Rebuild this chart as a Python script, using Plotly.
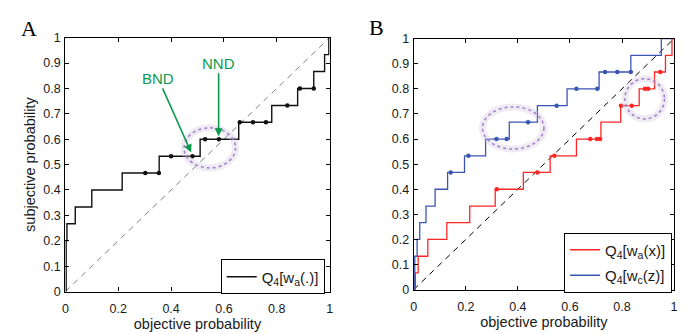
import plotly.graph_objects as go

# ---------------- data ----------------
# Panel A: step function Q4[wa(.)]
A_step_x = [0, 0.003, 0.006, 0.0375, 0.1, 0.215, 0.355, 0.51, 0.656, 0.781, 0.879, 0.94, 0.981, 0.997, 1.0]
A_step_y = [0, 0.2, 0.267, 0.333, 0.4, 0.467, 0.533, 0.6, 0.667, 0.733, 0.8, 0.867, 0.933, 1.0, 1.0]
A_dot_x = [0.3025, 0.354, 0.4, 0.481, 0.529, 0.581, 0.66, 0.71, 0.759, 0.84, 0.8875, 0.94]
A_dot_y = [0.467, 0.467, 0.533, 0.533, 0.6, 0.6, 0.667, 0.667, 0.667, 0.733, 0.8, 0.8]

# Panel B: red Q4[wa(x)]
B_red_x = [0, 0.006, 0.017, 0.054, 0.127, 0.215, 0.313, 0.421, 0.524, 0.625, 0.719, 0.795, 0.866, 0.925, 0.967, 0.992, 1.0]
B_red_y = [0, 0.067, 0.133, 0.2, 0.267, 0.333, 0.4, 0.467, 0.533, 0.6, 0.667, 0.733, 0.8, 0.867, 0.933, 1.0, 1.0]
B_red_dot_x = [0.319, 0.475, 0.54, 0.678, 0.704, 0.716, 0.796, 0.837, 0.888, 0.9, 0.947]
B_red_dot_y = [0.4, 0.467, 0.533, 0.6, 0.6, 0.6, 0.733, 0.733, 0.8, 0.8, 0.867]

# Panel B: blue Q4[wc(z)]
B_blue_x = [0, 0.004, 0.013, 0.023, 0.047, 0.082, 0.13, 0.195, 0.276, 0.367, 0.475, 0.589, 0.712, 0.834, 0.951, 1.0]
B_blue_y = [0, 0.133, 0.2, 0.267, 0.333, 0.4, 0.467, 0.533, 0.6, 0.667, 0.733, 0.8, 0.867, 0.933, 1.0, 1.0]
B_blue_dot_x = [0.142, 0.21, 0.318, 0.357, 0.439, 0.549, 0.625, 0.705, 0.735, 0.782, 0.834]
B_blue_dot_y = [0.467, 0.533, 0.6, 0.6, 0.667, 0.733, 0.8, 0.8, 0.867, 0.867, 0.867]

diag = [0, 1]

x_tickvals = [0, 0.2, 0.4, 0.6, 0.8, 1]
x_ticktext = ["0", "0.2", "0.4", "0.6", "0.8", "1"]
y_tickvals = [0, 0.1, 0.2, 0.3, 0.4, 0.5, 0.6, 0.7, 0.8, 0.9, 1]
y_ticktext = ["0", "0.1", "0.2", "0.3", "0.4", "0.5", "0.6", "0.7", "0.8", "0.9", "1"]

# ---------------- figure ----------------
W, H = 684, 334
FONT = "Liberation Sans, Arial, Helvetica, sans-serif"
SERIF = "Liberation Serif, Times New Roman, serif"
RED = "#ff2626"
BLUE = "#3a56b4"
GREEN = "#0a9a4c"
PURPLE = "#a47ccc"
TXT = "#1a1a1a"

fig = go.Figure()

# Panel A
fig.add_trace(go.Scatter(x=diag, y=diag, mode="lines", xaxis="x", yaxis="y",
                         line=dict(color="#808080", width=1, dash="6px,5px"),
                         showlegend=False, hoverinfo="skip"))
fig.add_trace(go.Scatter(x=A_step_x, y=A_step_y, mode="lines", xaxis="x", yaxis="y",
                         line=dict(color="#111111", width=1.4, shape="hv"),
                         name="Q<sub>4</sub>[w<sub>a</sub>(.)]", legend="legend"))
fig.add_trace(go.Scatter(x=A_dot_x, y=A_dot_y, mode="markers", xaxis="x", yaxis="y",
                         marker=dict(color="#111111", size=4.5),
                         showlegend=False))

# Panel B
fig.add_trace(go.Scatter(x=diag, y=diag, mode="lines", xaxis="x2", yaxis="y2",
                         line=dict(color="#000000", width=1, dash="6px,5px"),
                         showlegend=False, hoverinfo="skip"))
fig.add_trace(go.Scatter(x=B_red_x, y=B_red_y, mode="lines", xaxis="x2", yaxis="y2",
                         line=dict(color=RED, width=1.3, shape="hv"),
                         name="Q<sub>4</sub>[w<sub>a</sub>(x)]", legend="legend2",
                         legendgroup="r"))
fig.add_trace(go.Scatter(x=B_blue_x, y=B_blue_y, mode="lines", xaxis="x2", yaxis="y2",
                         line=dict(color=BLUE, width=1.3, shape="hv"),
                         name="Q<sub>4</sub>[w<sub>c</sub>(z)]", legend="legend2",
                         legendgroup="b"))
fig.add_trace(go.Scatter(x=B_red_dot_x, y=B_red_dot_y, mode="markers", xaxis="x2", yaxis="y2",
                         marker=dict(color=RED, size=4.5), showlegend=False))
fig.add_trace(go.Scatter(x=B_blue_dot_x, y=B_blue_dot_y, mode="markers", xaxis="x2", yaxis="y2",
                         marker=dict(color=BLUE, size=4.5), showlegend=False))

axis_common = dict(range=[0, 1], showgrid=False, zeroline=False, showline=True,
                   linecolor="#000000", linewidth=1.2, mirror="allticks",
                   ticks="inside", ticklen=4, tickcolor="#000000", tickwidth=1,
                   tickfont=dict(family=FONT, size=12.5, color=TXT))

def xa(domain, anchor):
    return dict(axis_common, domain=domain, anchor=anchor,
                tickvals=x_tickvals, ticktext=x_ticktext, ticklabelstandoff=5,
                title=dict(text="objective probability", standoff=1,
                           font=dict(family=FONT, size=14.5, color=TXT)))

def ya(domain, anchor, title):
    d = dict(axis_common, domain=domain, anchor=anchor, ticklabelstandoff=1,
             tickvals=y_tickvals, ticktext=y_ticktext)
    if title:
        d["title"] = dict(text="subjective probability", standoff=4,
                          font=dict(family=FONT, size=14.5, color=TXT))
    return d

fig.update_layout(
    width=W, height=H,
    margin=dict(l=0, r=0, t=0, b=0),
    paper_bgcolor="white", plot_bgcolor="white",
    xaxis=xa([63 / W, 330 / W], "y"),
    yaxis=ya([1 - 297 / H, 1 - 32 / H], "x", True),
    xaxis2=xa([415 / W, 678 / W], "y2"),
    yaxis2=ya([1 - 295 / H, 1 - 33 / H], "x2", False),
    legend=dict(x=325 / W, y=1 - 300 / H, xanchor="right", yanchor="bottom",
                bgcolor="white", bordercolor="#000000", borderwidth=1,
                font=dict(family=FONT, size=15, color=TXT)),
    legend2=dict(x=676 / W, y=1 - 298 / H, xanchor="right", yanchor="bottom",
                 bgcolor="white", bordercolor="#000000", borderwidth=1,
                 tracegroupgap=3,
                 font=dict(family=FONT, size=15, color=TXT)),
    showlegend=True,
)

# ellipses with soft glow
def ellipse(xref, yref, x0, x1, y0, y1):
    fig.add_shape(type="circle", xref=xref, yref=yref, x0=x0, x1=x1, y0=y0, y1=y1,
                  line=dict(color="rgba(200,190,215,0.3)", width=7), layer="above")
    fig.add_shape(type="circle", xref=xref, yref=yref, x0=x0, x1=x1, y0=y0, y1=y1,
                  line=dict(color=PURPLE, width=1.5, dash="3px,3px"), layer="above")

ellipse("x", "y", 0.449, 0.644, 0.487, 0.645)
ellipse("x2", "y2", 0.264, 0.50, 0.56, 0.728)
ellipse("x2", "y2", 0.811, 0.963, 0.68, 0.84)

# arrows
fig.add_annotation(xref="x", yref="y", x=0.476, y=0.548, ax=-33, ay=-74,
                   text="BND", showarrow=True, arrowhead=2, arrowsize=1,
                   arrowwidth=1.6, arrowcolor=GREEN,
                   font=dict(family=FONT, size=15, color=GREEN))
fig.add_annotation(xref="x", yref="y", x=0.58, y=0.612, ax=0, ay=-73,
                   text="NND", showarrow=True, arrowhead=2, arrowsize=1,
                   arrowwidth=1.6, arrowcolor=GREEN,
                   font=dict(family=FONT, size=15, color=GREEN))

# panel letters
fig.add_annotation(xref="paper", yref="paper", x=26 / W, y=1 - 22 / H, text="A",
                   xanchor="center", yanchor="middle",
                   showarrow=False, font=dict(family=SERIF, size=22, color="#000000"))
fig.add_annotation(xref="paper", yref="paper", x=377 / W, y=1 - 21 / H, text="B",
                   xanchor="center", yanchor="middle",
                   showarrow=False, font=dict(family=SERIF, size=22, color="#000000"))

fig.write_html("out.html")
